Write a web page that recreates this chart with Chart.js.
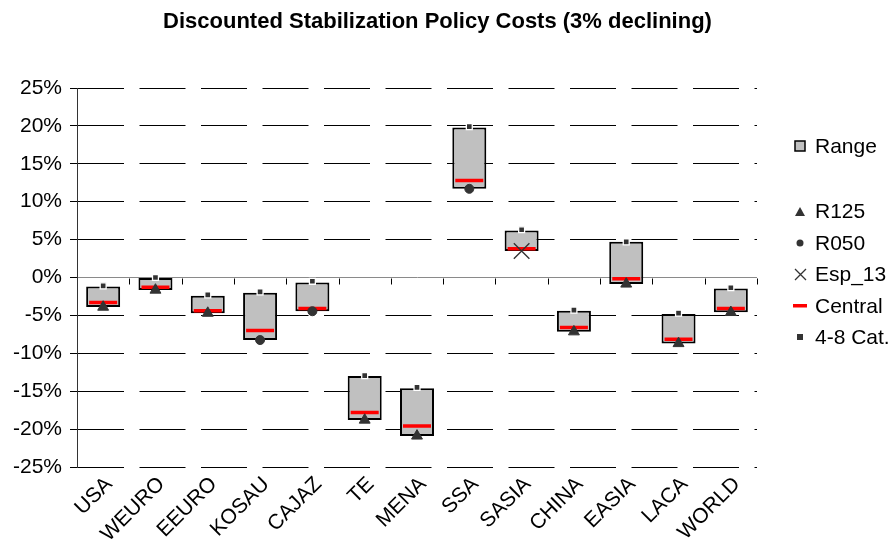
<!DOCTYPE html>
<html>
<head>
<meta charset="utf-8">
<title>Discounted Stabilization Policy Costs</title>
<script src="https://cdn.jsdelivr.net/npm/chart.js@4/dist/chart.umd.min.js"></script>
<style>
    html, body { margin: 0; padding: 0; background: #fff; }
    #wrap { position: relative; width: 892px; height: 557px; font-family: 'Liberation Sans', Arial, sans-serif; }
    #chart { position: absolute; left: 0; top: 0; }
    #title {
        position: absolute; left: 0; width: 875px; top: 8px;
        text-align: center; font-weight: bold; font-size: 22px; color: #000;
    }
    #legend { position: absolute; left: 790px; top: 130px; font-size: 21px; color: #000; }
    #legend .row { display: flex; align-items: center; height: 31.5px; }
    #legend .row.gap { margin-bottom: 34px; }
    #legend .icon { width: 20px; height: 16px; display: flex; align-items: center; justify-content: center; margin-right: 5px; }
</style>
</head>
<body>
<div id="wrap">
    <canvas id="chart" width="892" height="557"></canvas>
    <div id="title">Discounted Stabilization Policy Costs (3% declining)</div>
    <div id="legend">
        <div class="row gap"><span class="icon"><svg width="12" height="12"><rect x="1" y="1" width="10" height="10" fill="#C0C0C0" stroke="#000" stroke-width="1.5"/></svg></span>Range</div>
        <div class="row"><span class="icon"><svg width="10" height="9"><polygon points="5,0 10,9 0,9" fill="#333"/></svg></span>R125</div>
        <div class="row"><span class="icon"><svg width="8" height="8"><circle cx="4" cy="4" r="3.5" fill="#333"/></svg></span>R050</div>
        <div class="row"><span class="icon"><svg width="13" height="13"><path d="M1 1 L12 12 M12 1 L1 12" stroke="#333" stroke-width="1.3"/></svg></span>Esp_13</div>
        <div class="row"><span class="icon"><svg width="14" height="4"><rect x="0" y="0" width="14" height="3.5" fill="#FF0000"/></svg></span>Central</div>
        <div class="row"><span class="icon"><svg width="6" height="6"><rect x="0" y="0" width="6" height="6" fill="#333"/></svg></span>4-8 Cat.</div>
    </div>
</div>
<script>
// Regions and cost values (% of baseline), 3% declining discount rate
const CATEGORIES = ['USA', 'WEURO', 'EEURO', 'KOSAU', 'CAJAZ', 'TE', 'MENA', 'SSA', 'SASIA', 'CHINA', 'EASIA', 'LACA', 'WORLD'];

const RANGE_LOW  = [-3.9, -1.65, -4.7, -8.25, -4.45, -18.8, -20.9, 11.7, 3.5, -7.15, -0.85, -8.7, -4.6];
const RANGE_HIGH = [-1.2,  0.0,  -2.4, -2.0,  -0.65, -13.0, -14.6, 19.8, 6.2, -4.4,   4.7, -4.8, -1.45];

const CENTRAL = [-3.3, -1.3, -4.4, -7.0, -4.1, -17.8, -19.6, 12.8, 3.8, -6.6, -0.15, -8.15, -4.1];
const R125    = [-3.9, -1.65, -4.7, null, null, -18.8, -20.9, null, null, -7.15, -0.85, -8.7, -4.6];
const R050    = [null, null, null, -8.25, -4.45, null, null, 11.7, null, null, null, null, null];
const ESP_13  = [null, null, null, null, null, null, null, null, 3.5, null, null, null, null];
const CAT_4_8 = [-1.1, 0.0, -2.3, -1.9, -0.5, -12.95, -14.5, 19.9, 6.3, -4.3, 4.7, -4.7, -1.35];

const Y_TICKS = [-25, -20, -15, -10, -5, 0, 5, 10, 15, 20, 25];

const FONT = "'Liberation Sans', Arial, sans-serif";
const MARKER = '#333333';

// small tick marks under the zero line, at each category boundary
const zeroTicks = {
    id: 'zeroTicks',
    beforeDatasetsDraw(chart) {
        const { ctx, chartArea, scales } = chart;
        const y0 = Math.round(scales.y.getPixelForValue(0)) + 0.5;
        const n = CATEGORIES.length;
        const step = (chartArea.right - chartArea.left) / n;
        ctx.save();
        ctx.strokeStyle = '#000';
        ctx.lineWidth = 1;
        ctx.beginPath();
        for (let i = 1; i <= n; i++) {
            const x = Math.round(chartArea.left + i * step) + 0.5;
            ctx.moveTo(x, y0);
            ctx.lineTo(x, y0 + 6);
        }
        ctx.stroke();
        ctx.restore();
    }
};

function markerSet(label, data, style, radius, order, extra) {
    return Object.assign({
        type: 'line',
        label: label,
        data: data,
        showLine: false,
        pointStyle: style,
        pointRadius: radius,
        pointHoverRadius: radius,
        pointBackgroundColor: MARKER,
        pointBorderColor: MARKER,
        pointBorderWidth: 1,
        borderColor: MARKER,
        order: order,
    }, extra || {});
}

new Chart(document.getElementById('chart'), {
    type: 'bar',
    data: {
        labels: CATEGORIES,
        datasets: [
            markerSet('4-8 Cat.', CAT_4_8, 'rect', 4.2, 1, { pointBorderColor: '#fff', pointBorderWidth: 1.3 }),
            markerSet('Esp_13', ESP_13, 'crossRot', 11, 2, { pointBorderWidth: 1.4 }),
            markerSet('R050', R050, 'circle', 4.5, 3),
            markerSet('R125', R125, 'triangle', 6.3, 4),
            markerSet('Central', CENTRAL, 'line', 14, 5, { pointBorderColor: '#FF0000', pointBorderWidth: 3.5 }),
            {
                type: 'bar',
                label: 'Range',
                data: RANGE_LOW.map((lo, i) => [lo, RANGE_HIGH[i]]),
                backgroundColor: '#C0C0C0',
                borderColor: '#000',
                borderWidth: 2,
                borderSkipped: false,
                barPercentage: 0.65,
                categoryPercentage: 1,
                order: 6,
            }
        ]
    },
    options: {
        responsive: false,
        animation: false,
        layout: { padding: { left: 10, right: 135, top: 88, bottom: 10 } },
        plugins: {
            legend: { display: false },
            title: { display: false },
            tooltip: { enabled: false }
        },
        scales: {
            x: {
                grid: { display: false },
                border: { display: false },
                ticks: {
                    autoSkip: false,
                    minRotation: 45,
                    maxRotation: 45,
                    padding: -3,
                    labelOffset: 6,
                    color: '#000',
                    font: { family: FONT, size: 21 }
                },
                afterFit: s => { s.height = 80; }
            },
            y: {
                min: -25,
                max: 25,
                afterBuildTicks: s => { s.ticks = Y_TICKS.map(v => ({ value: v })); },
                ticks: {
                    padding: 8,
                    color: '#000',
                    font: { family: FONT, size: 21 },
                    callback: v => v + '%'
                },
                grid: {
                    color: c => (c.tick && c.tick.value === 0) ? '#8a8a8a' : '#000',
                    tickColor: '#000',
                    tickLength: 7,
                    lineWidth: 1
                },
                border: {
                    color: '#333',
                    width: 1,
                    dash: c => (c.tick && c.tick.value === 0) ? [] : [46, 15.5]
                },
                afterFit: s => { s.width = 67; }
            }
        }
    },
    plugins: [zeroTicks]
});
</script>
</body>
</html>
